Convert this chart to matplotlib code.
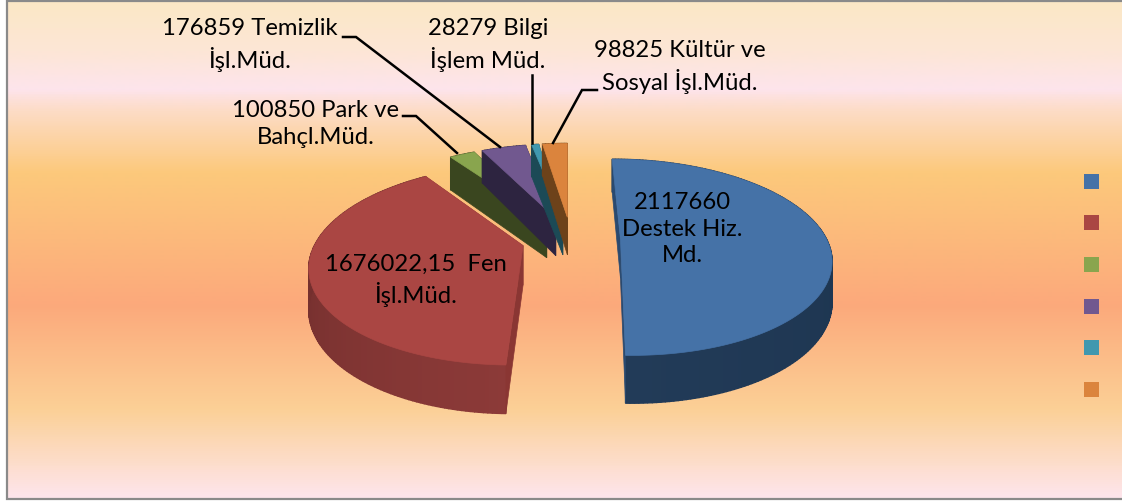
import numpy as np
import matplotlib
matplotlib.use("Agg")
import matplotlib.pyplot as plt
from matplotlib.colors import LinearSegmentedColormap, to_rgb
from matplotlib.patches import Polygon, Rectangle

values = [2117660, 1676022.15, 100850, 176859, 28279, 98825]
labels = ["2117660\nDestek Hiz.\nMd.", "1676022,15  Fen\nİşl.Müd.",
          "100850 Park ve\nBahçl.Müd.", "176859 Temizlik\nİşl.Müd.",
          "28279 Bilgi\nİşlem Müd.", "98825 Kültür ve\nSosyal İşl.Müd."]
face_colors = ["#4572A7", "#AA4643", "#89A54E", "#71588F", "#4198AF", "#DB843D"]
wall_near = ["#223B58", "#642827", "#3A461F", "#2D2440", "#1C4A56", "#6D421A"]
wall_far = ["#1D3550", "#8C3A38", "#3A461F", "#2D2440", "#1C4A56", "#6D421A"]
cut_colors = ["#2A4A70", "#8A3633", "#3A461F", "#2D2440", "#1C4A56", "#6D421A"]

W, H = 1122, 501
CX, CY, AX, KY, P, DEPTH, EXPLODE, START = 571, 239, 206, 94.7, 0.184, 39, 0.24, -0.2

fig = plt.figure(figsize=(W / 100, H / 100), dpi=100, facecolor="white")
ax = fig.add_axes([0, 0, 1, 1])
ax.axis("off")

stops = [(2, "#FBE8C6"), (50, "#FDE6D6"), (88, "#FDE4EC"), (110, "#FDDCC6"),
         (172, "#FCC97C"), (305, "#FCA97B"), (410, "#FBD096"), (498, "#FEE5EC")]
cmap = LinearSegmentedColormap.from_list(
    "bg", [((y - 2) / 496, c) for y, c in stops])
ax.imshow(np.linspace(0, 1, 497)[:, None], extent=(8, W + 2, 498, 2), cmap=cmap,
          aspect="auto", zorder=0, interpolation="bilinear")
ax.set_xlim(0, W)
ax.set_ylim(H, 0)
ax.plot([W + 5, 7.5, 7.5, W + 5], [1, 1, 498.5, 498.5], color="#8A8A8A", lw=1.6, zorder=1,
        solid_joinstyle="miter")


def project(X, Y, z=0.0):
    d = 1 - P * Y
    return np.column_stack([CX + X * AX / d, CY + (Y * KY + z * DEPTH) / d])


def blend(a, b, t):
    a, b = np.array(to_rgb(a)), np.array(to_rgb(b))
    return tuple(a + (b - a) * t)


fracs = np.array(values) / np.sum(values)
edges = START + 360 * np.concatenate([[0], np.cumsum(fracs)])
order = [2, 3, 4, 5, 1, 0]
z = 3
for i in order:
    a0, a1 = np.radians(edges[i]), np.radians(edges[i + 1])
    mid = (a0 + a1) / 2
    ox, oy = EXPLODE * np.sin(mid), -EXPLODE * np.cos(mid)
    th = np.linspace(a0, a1, max(int(np.degrees(a1 - a0)), 3) + 1)
    X, Y = ox + np.sin(th), oy - np.cos(th)
    # outer wall, drawn as shaded strips
    for j in range(len(th) - 1):
        t = (j + 0.5) / (len(th) - 1)
        if i == 0:
            t = abs(t - 0.5) * 2
        top = project(X[j:j + 2], Y[j:j + 2], 0)
        bot = project(X[j:j + 2], Y[j:j + 2], 1)[::-1]
        col = blend(wall_far[i], wall_near[i], t)
        ax.add_patch(Polygon(np.vstack([top, bot]), closed=True, fc=col, ec=col, lw=1.0, zorder=z))
    z += 0.01
    # cut walls: far edge first, the one facing the viewer after it
    for ex, ey in [(X[-1], Y[-1]), (X[0], Y[0])]:
        xs, ys = np.array([ex, ox]), np.array([ey, oy])
        quad = np.vstack([project(xs, ys, 0), project(xs, ys, 1)[::-1]])
        ax.add_patch(Polygon(quad, closed=True, fc=cut_colors[i], ec=cut_colors[i], lw=0.5, zorder=z))
        z += 0.01
    # top face
    fx = np.concatenate([[ox], X])
    fy = np.concatenate([[oy], Y])
    ax.add_patch(Polygon(project(fx, fy, 0), closed=True, fc=face_colors[i],
                         ec=face_colors[i], lw=0.5, zorder=z))
    z += 0.01

# legend keys (their labels are blank in the original)
for key_top, col in zip([174, 215, 257, 299, 340, 382], face_colors):
    ax.add_patch(Rectangle((1084, key_top), 15, 15, fc=col, ec="none", zorder=6))

# leader lines
leaders = [([343, 356, 500], [37, 37, 147]), ([403, 416, 457], [116, 116, 153]),
           ([532, 532], [75, 143]), ([597, 582, 553], [90, 90, 143])]
for lx, ly in leaders:
    ax.plot(lx, ly, color="black", lw=1.8, zorder=7, solid_joinstyle="miter")

label_pos = [(682, 229), (416, 280), (316, 124), (250, 45), (488, 45), (680, 67)]
for (x, y), s in zip(label_pos, labels):
    ax.text(x, y, s, ha="center", va="center", family=["Lato", "DejaVu Sans"], fontsize=17.2,
            color="black", linespacing=1.34, zorder=8)

fig.savefig("out.png", dpi=100, facecolor="white")
